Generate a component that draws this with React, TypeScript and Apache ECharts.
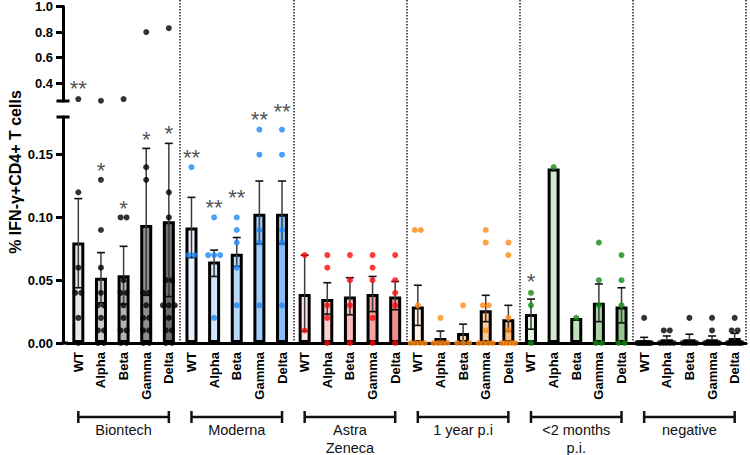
import React, { useEffect, useRef } from "react";
import * as echarts from "echarts";

// ---------- data ----------
const variants = ["WT", "Alpha", "Beta", "Gamma", "Delta"];
const groupNames = ["Biontech", "Moderna", "Astra\nZeneca", "1 year p.i", "<2 months\np.i.", "negative"];
const categories = groupNames.flatMap(() => variants);

const barMeans = [
  0.080, 0.052, 0.054, 0.094, 0.097,
  0.092, 0.065, 0.071, 0.103, 0.103,
  0.039, 0.035, 0.037, 0.039, 0.037,
  0.029, 0.004, 0.008, 0.026, 0.019,
  0.023, 0.139, 0.020, 0.032, 0.029,
  0.002, 0.003, 0.003, 0.003, 0.004,
];
const errHigh = [
  0.115, 0.072, 0.077, 0.155, 0.159,
  0.116, 0.074, 0.084, 0.129, 0.129,
  0.070, 0.048, 0.052, 0.053, 0.049,
  0.046, 0.0095, 0.015, 0.038, 0.030,
  0.035, null, null, 0.047, 0.044,
  0.0045, 0.0056, 0.007, 0.0056, 0.0077,
];
const errLow = [
  0.044, 0.032, 0.031, 0.038, 0.037,
  0.068, 0.053, 0.061, 0.079, 0.079,
  0.0095, 0.023, 0.0225, 0.025, 0.0265,
  0.014, 0, 0, 0.017, 0.0095,
  0.011, null, null, 0.017, 0.016,
  0, 0, 0, 0, 0,
];

const biontechPoints = [
  [0.275, 0.12, 0.06, 0.04, 0.04, 0.02, 0],
  [0.262, 0.13, 0.09, 0.06, 0.04, 0.03, 0.03, 0.02, 0.01, 0.01, 0, 0],
  [0.275, 0.1, 0.1, 0.05, 0.04, 0.04, 0.03, 0.02, 0.01, 0.01, 0, 0],
  [0.8, 0.14, 0.13, 0.04, 0.04, 0.03, 0.02, 0.02, 0.01, 0.01, 0, 0],
  [0.83, 0.12, 0.1, 0.05, 0.05, 0.03, 0.03, 0.03, 0.02, 0.01, 0.01, 0, 0],
];
const modernaPoints = [
  [0.14, 0.07, 0.07],
  [0.1, 0.07, 0.07, 0.07, 0.02],
  [0.1, 0.09, 0.08, 0.06, 0.03],
  [0.17, 0.15, 0.09, 0.08, 0.03],
  [0.17, 0.15, 0.09, 0.08, 0.03],
];
const astraPoints = [
  [0.07, 0.01],
  [0.07, 0.06, 0.03, 0.02, 0],
  [0.07, 0.05, 0.03, 0],
  [0.07, 0.06, 0.05, 0.02, 0],
  [0.07, 0.05, 0.04, 0.03, 0],
];
const oneYearPoints = [
  [0.09, 0.09, 0.03, 0, 0, 0, 0],
  [0.02, 0, 0, 0, 0],
  [0.03, 0, 0, 0],
  [0.09, 0.08, 0.03, 0.03, 0.01, 0, 0, 0, 0],
  [0.08, 0.07, 0.02, 0.01, 0, 0, 0, 0, 0],
];
const twoMonthPoints = [
  [0.04, 0.03, 0],
  [0.14],
  [0.02],
  [0.08, 0.05, 0.03, 0, 0],
  [0.07, 0.05, 0.03, 0, 0],
];
const negativePoints = [
  [0.02, 0, 0, 0, 0, 0, 0, 0, 0, 0],
  [0.01, 0.01, 0, 0, 0, 0, 0],
  [0.02, 0, 0, 0, 0, 0, 0],
  [0.02, 0.01, 0, 0, 0, 0, 0, 0, 0, 0],
  [0.02, 0.01, 0.01, 0, 0, 0, 0, 0, 0, 0],
];
const allPoints = [biontechPoints, modernaPoints, astraPoints, oneYearPoints, twoMonthPoints, negativePoints];

// significance annotations
const starCats = [0, 1, 2, 3, 4, 5, 6, 7, 8, 9, 20];
const starValues = [0.395, 0.141, 0.111, 0.166, 0.171, 0.152, 0.112, 0.12, 0.182, 0.188, 0.053];
const starLabels = ["**", "*", "*", "*", "*", "**", "**", "**", "**", "**", "*"];

const upperTicks = [0.4, 0.6, 0.8, 1.0];
const lowerTicks = [0, 0.05, 0.1, 0.15];

// ---------- styles ----------
const FONT = "Liberation Sans, Arial, Helvetica, sans-serif";
const barColors = [
  "#e9e9e9", "#cdcdcd", "#b3b3b3", "#8f8f8f", "#6f6f6f",
  "#e4f0fc", "#d0e5fb", "#b9d9fa", "#a2ccf9", "#87bdf6",
  "#fde6e6", "#fbd0d0", "#f8baba", "#f5a3a3", "#f28b8b",
  "#fff3e4", "#fde6cc", "#fcd9b3", "#fbcb99", "#f9bd81",
  "#e6f2e4", "#d4e9d0", "#c0dfbb", "#aad3a4", "#94c78e",
  "#000000", "#000000", "#000000", "#000000", "#000000",
];
const dotColors = ["#000000", "#1d87f5", "#ff0a0a", "#ff8a12", "#138a13", "#000000"];

const GRID_LEFT = 67;
const GRID_RIGHT = 4;
const UP_TOP = 6, UP_H = 95;
const LO_TOP = 117, LO_H = 226;

function jitter(values: number[], idx: number) {
  const v = values[idx];
  const same = values.map((x, i) => ({ x, i })).filter((o) => o.x === v);
  const n = same.length;
  if (n <= 1) return 0;
  const k = same.findIndex((o) => o.i === idx);
  const spacing = Math.min(6, 14 / (n - 1));
  return (k - (n - 1) / 2) * spacing;
}

export default function App() {
  const ref = useRef<HTMLDivElement>(null);
  useEffect(() => {
    if (!ref.current) return;
    const chart = echarts.init(ref.current, null, { renderer: "svg" });

    const lowerDots: any[] = [];
    const upperDots: any[] = [];
    allPoints.forEach((grp, g) => {
      grp.forEach((vals, v) => {
        const cat = g * 5 + v;
        vals.forEach((val, i) => {
          const item = {
            value: [cat, val],
            symbolOffset: [jitter(vals, i), 0],
            itemStyle: { color: dotColors[g] },
          };
          if (val > 0.2) upperDots.push(item);
          else lowerDots.push(item);
        });
      });
    });

    const errData = barMeans
      .map((_, i) => (errHigh[i] == null ? null : [i, errLow[i], errHigh[i]]))
      .filter((d) => d != null);

    const starItems = (upper: boolean) =>
      starCats
        .map((c, i) => ({ value: [c, starValues[i]], label: { formatter: starLabels[i] } }))
        .filter((d) => (d.value[1] > 0.2) === upper);

    const starSeries = (upper: boolean) => ({
      type: "scatter",
      xAxisIndex: upper ? 0 : 1,
      yAxisIndex: upper ? 0 : 1,
      data: starItems(upper),
      symbolSize: 1,
      clip: false,
      itemStyle: { color: "transparent" },
      label: {
        show: true,
        position: "inside",
        fontSize: 22,
        color: "#222",
        fontFamily: FONT,
        offset: [0, 5],
      },
      z: 6,
      silent: true,
    });

    const catAxisBase = {
      type: "category",
      data: categories,
    };

    const option: any = {
      animation: false,
      textStyle: { fontFamily: FONT },
      grid: [
        { left: GRID_LEFT, right: GRID_RIGHT, top: UP_TOP, height: UP_H },
        { left: GRID_LEFT, right: GRID_RIGHT, top: LO_TOP, height: LO_H },
        { left: GRID_LEFT, right: GRID_RIGHT, top: 0, height: LO_TOP + LO_H },
      ],
      xAxis: [
        {
          ...catAxisBase,
          gridIndex: 0,
          axisLine: { show: false },
          axisTick: { show: false },
          axisLabel: { show: false },
        },
        {
          ...catAxisBase,
          gridIndex: 1,
          axisLine: { lineStyle: { color: "#000", width: 3 } },
          axisTick: { alignWithLabel: true, length: 6, lineStyle: { color: "#000", width: 3 } },
          axisLabel: {
            rotate: 90,
            interval: 0,
            margin: 9,
            fontSize: 13,
            fontWeight: "bold",
            color: "#000",
            fontFamily: FONT,
          },
        },
        {
          ...catAxisBase,
          gridIndex: 2,
          axisLine: { show: false },
          axisTick: { show: false },
          axisLabel: { show: false },
          splitLine: {
            show: true,
            interval: (index: number) => index > 0 && index % 5 === 0,
            lineStyle: { color: "#222", width: 1.5, type: [1.5, 1.5] },
          },
        },
      ],
      yAxis: [
        {
          type: "value",
          gridIndex: 0,
          min: 0.26,
          max: 1.0,
          offset: 4,
          axisLine: { show: true, lineStyle: { color: "#000", width: 3 } },
          axisTick: { show: true, customValues: upperTicks, length: 7, lineStyle: { color: "#000", width: 3 } },
          axisLabel: {
            customValues: upperTicks,
            formatter: (v: number) => v.toFixed(1),
            fontSize: 13,
            fontWeight: "bold",
            color: "#000",
            margin: 10,
            fontFamily: FONT,
          },
          splitLine: { show: false },
        },
        {
          type: "value",
          gridIndex: 1,
          min: 0,
          max: 0.18,
          offset: 4,
          axisLine: { show: true, lineStyle: { color: "#000", width: 3 } },
          axisTick: { show: true, customValues: lowerTicks, length: 7, lineStyle: { color: "#000", width: 3 } },
          axisLabel: {
            customValues: lowerTicks,
            formatter: (v: number) => v.toFixed(2),
            fontSize: 13,
            fontWeight: "bold",
            color: "#000",
            margin: 10,
            fontFamily: FONT,
          },
          splitLine: { show: false },
        },
        { type: "value", gridIndex: 2, show: false, min: 0, max: 1, splitLine: { show: false } },
      ],
      series: [
        {
          type: "bar",
          xAxisIndex: 1,
          yAxisIndex: 1,
          barWidth: 12,
          data: barMeans.map((v, i) => ({ value: v, itemStyle: { color: barColors[i] } })),
          itemStyle: { borderColor: "#000", borderWidth: 3 },
          z: 2,
          silent: true,
        },
        {
          type: "custom",
          xAxisIndex: 1,
          yAxisIndex: 1,
          data: errData,
          encode: { x: 0, y: [1, 2] },
          z: 3,
          silent: true,
          clip: false,
          renderItem: (_p: any, api: any) => {
            const x = api.value(0);
            const pHi = api.coord([x, api.value(2)]);
            const pLo = api.coord([x, api.value(1)]);
            const w = 4;
            return {
              type: "group",
              children: [
                { type: "line", shape: { x1: pHi[0], y1: pHi[1], x2: pLo[0], y2: pLo[1] }, style: { stroke: "#3c3c3c", lineWidth: 1.5 } },
                { type: "line", shape: { x1: pHi[0] - w, y1: pHi[1], x2: pHi[0] + w, y2: pHi[1] }, style: { stroke: "#111", lineWidth: 1.6 } },
                { type: "line", shape: { x1: pLo[0] - w, y1: pLo[1], x2: pLo[0] + w, y2: pLo[1] }, style: { stroke: "#111", lineWidth: 1.6 } },
              ],
            };
          },
        },
        {
          type: "scatter",
          xAxisIndex: 1,
          yAxisIndex: 1,
          data: lowerDots,
          symbolSize: 6,
          clip: false,
          z: 5,
          silent: true,
        },
        {
          type: "scatter",
          xAxisIndex: 0,
          yAxisIndex: 0,
          data: upperDots,
          symbolSize: 6,
          clip: false,
          z: 5,
          silent: true,
        },
        starSeries(true),
        starSeries(false),
        {
          type: "custom",
          xAxisIndex: 1,
          yAxisIndex: 1,
          data: groupNames.map((_, g) => [g * 5, g * 5 + 4, g]),
          encode: { x: [0, 1] },
          clip: false,
          silent: true,
          renderItem: (_p: any, api: any) => {
            const p1 = api.coord([api.value(0), 0]);
            const p2 = api.coord([api.value(1), 0]);
            const g = api.value(2);
            const y = p1[1] + 74;
            const st = { stroke: "#111", lineWidth: 2.5 };
            return {
              type: "group",
              children: [
                { type: "line", shape: { x1: p1[0], y1: y, x2: p2[0], y2: y }, style: st },
                { type: "line", shape: { x1: p1[0], y1: y - 6, x2: p1[0], y2: y + 6 }, style: st },
                { type: "line", shape: { x1: p2[0], y1: y - 6, x2: p2[0], y2: y + 6 }, style: st },
                {
                  type: "text",
                  style: {
                    text: groupNames[g],
                    x: (p1[0] + p2[0]) / 2,
                    y: y + 4,
                    align: "center",
                    verticalAlign: "top",
                    fontSize: 14.5,
                    lineHeight: 18,
                    fontFamily: FONT,
                    fill: "#111",
                  },
                },
              ],
            };
          },
        },
      ],
      graphic: [
        {
          type: "text",
          x: 15,
          y: 172,
          rotation: Math.PI / 2,
          style: {
            text: "% IFN-γ+CD4+ T cells",
            fontSize: 16,
            fontWeight: "bold",
            fontFamily: FONT,
            fill: "#000",
            align: "center",
            verticalAlign: "middle",
          },
        },
        {
          type: "line",
          shape: { x1: 56.5, y1: UP_TOP + UP_H, x2: 69.5, y2: UP_TOP + UP_H },
          style: { stroke: "#000", lineWidth: 3 },
        },
        {
          type: "line",
          shape: { x1: 56.5, y1: LO_TOP, x2: 69.5, y2: LO_TOP },
          style: { stroke: "#000", lineWidth: 3 },
        },
        {
          type: "line",
          shape: { x1: 61.5, y1: LO_TOP + LO_H, x2: 68, y2: LO_TOP + LO_H },
          style: { stroke: "#000", lineWidth: 3 },
        },
      ],
    };

    chart.setOption(option);
    return () => chart.dispose();
  }, []);

  return (
    <div
      ref={ref}
      style={{ position: "fixed", left: 0, top: 0, width: 750, height: 455, background: "#fff" }}
    />
  );
}
